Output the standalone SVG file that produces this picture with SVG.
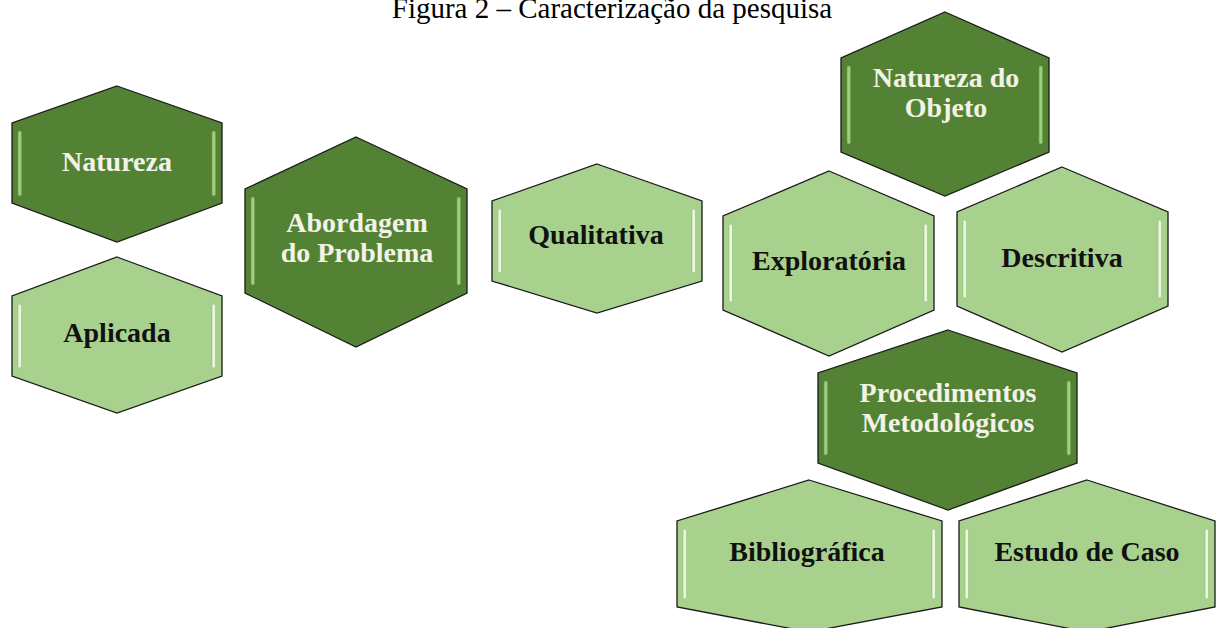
<svg xmlns="http://www.w3.org/2000/svg" width="1217" height="628" viewBox="0 0 1217 628">
  <style>
    .hex { stroke: #1a1a1a; stroke-width: 1.3; stroke-linejoin: miter; }
    .dark .hex { fill: #548235; }
    .light .hex { fill: #a9d18e; }
    .dark .bevel { fill: #9fce7e; stroke: #6c9f4a; stroke-width: 0.6; }
    .light .bevel { fill: #eaf6df; stroke: #8fbf6f; stroke-width: 0.6; }
    .label { font-family: "Liberation Serif", "Times New Roman", serif; font-weight: bold; font-size: 28px; text-anchor: middle; }
    .dark .label { fill: #f2f2e6; }
    .light .label { fill: #111111; }
    .title { font-family: "Liberation Serif", "Times New Roman", serif; font-size: 29px; fill: #000000; text-anchor: middle; }
  </style>

  <rect x="0" y="0" width="1217" height="628" fill="#ffffff"/>

  <text class="title" x="612" y="18">Figura 2 – Caracterização da pesquisa</text>

  <!-- Natureza -->
  <g id="natureza" class="dark">
    <polygon class="hex" points="117,86 222,123 222,203 117,242 12,203 12,123"/>
    <rect class="bevel" x="18" y="131" width="3.5" height="65" rx="1.7"/>
    <rect class="bevel" x="212" y="131" width="3.5" height="65" rx="1.7"/>
    <text class="label" x="117" y="171">Natureza</text>
  </g>

  <!-- Aplicada -->
  <g id="aplicada" class="light">
    <polygon class="hex" points="117,257 222,296 222,376 117,413 12,376 12,296"/>
    <rect class="bevel" x="18" y="304" width="3.5" height="64" rx="1.7"/>
    <rect class="bevel" x="212" y="304" width="3.5" height="64" rx="1.7"/>
    <text class="label" x="117" y="342">Aplicada</text>
  </g>

  <!-- Abordagem do Problema -->
  <g id="abordagem" class="dark">
    <polygon class="hex" points="356,137 467,189 467,293 356,347 245,293 245,189"/>
    <rect class="bevel" x="251" y="197" width="3.5" height="88" rx="1.7"/>
    <rect class="bevel" x="457" y="197" width="3.5" height="88" rx="1.7"/>
    <text class="label" x="357" y="232">Abordagem</text>
    <text class="label" x="357" y="262">do Problema</text>
  </g>

  <!-- Qualitativa -->
  <g id="qualitativa" class="light">
    <polygon class="hex" points="597,164 702,201 702,281 597,313 492,281 492,201"/>
    <rect class="bevel" x="498" y="209" width="3.5" height="64" rx="1.7"/>
    <rect class="bevel" x="692" y="209" width="3.5" height="64" rx="1.7"/>
    <text class="label" x="596" y="244">Qualitativa</text>
  </g>

  <!-- Natureza do Objeto -->
  <g id="natureza-objeto" class="dark">
    <polygon class="hex" points="945,12 1049,58 1049,152 945,196 841,152 841,58"/>
    <rect class="bevel" x="847" y="66" width="3.5" height="78" rx="1.7"/>
    <rect class="bevel" x="1039" y="66" width="3.5" height="78" rx="1.7"/>
    <text class="label" x="946" y="87">Natureza do</text>
    <text class="label" x="946" y="117">Objeto</text>
  </g>

  <!-- Exploratória -->
  <g id="exploratoria" class="light">
    <polygon class="hex" points="829,171 934,216 934,310 829,356 723,310 723,216"/>
    <rect class="bevel" x="729" y="224" width="3.5" height="78" rx="1.7"/>
    <rect class="bevel" x="924" y="224" width="3.5" height="78" rx="1.7"/>
    <text class="label" x="829" y="270">Exploratória</text>
  </g>

  <!-- Descritiva -->
  <g id="descritiva" class="light">
    <polygon class="hex" points="1062,167 1168,212 1168,306 1062,352 957,306 957,212"/>
    <rect class="bevel" x="963" y="220" width="3.5" height="78" rx="1.7"/>
    <rect class="bevel" x="1158" y="220" width="3.5" height="78" rx="1.7"/>
    <text class="label" x="1062" y="267">Descritiva</text>
  </g>

  <!-- Procedimentos Metodológicos -->
  <g id="procedimentos" class="dark">
    <polygon class="hex" points="948,330 1077,373 1077,463 948,510 818,463 818,373"/>
    <rect class="bevel" x="824" y="381" width="3.5" height="74" rx="1.7"/>
    <rect class="bevel" x="1067" y="381" width="3.5" height="74" rx="1.7"/>
    <text class="label" x="948" y="402">Procedimentos</text>
    <text class="label" x="948" y="432">Metodológicos</text>
  </g>

  <!-- Bibliográfica -->
  <g id="bibliografica" class="light">
    <polygon class="hex" points="809,480 942,521 942,607 809,632 677,607 677,521"/>
    <rect class="bevel" x="683" y="529" width="3.5" height="70" rx="1.7"/>
    <rect class="bevel" x="932" y="529" width="3.5" height="70" rx="1.7"/>
    <text class="label" x="807" y="561">Bibliográfica</text>
  </g>

  <!-- Estudo de Caso -->
  <g id="estudo-caso" class="light">
    <polygon class="hex" points="1087,480 1215,521 1215,607 1087,632 959,607 959,521"/>
    <rect class="bevel" x="965" y="529" width="3.5" height="70" rx="1.7"/>
    <rect class="bevel" x="1205" y="529" width="3.5" height="70" rx="1.7"/>
    <text class="label" x="1087" y="561">Estudo de Caso</text>
  </g>

  <!-- no connectors in this figure -->
  <g id="connectors"/>
</svg>
